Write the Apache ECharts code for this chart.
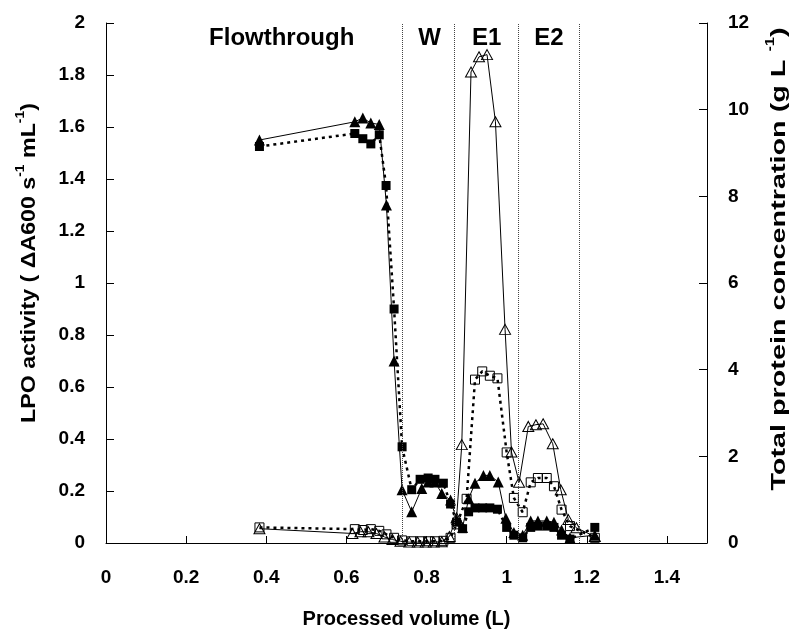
<!DOCTYPE html>
<html>
<head>
<meta charset="utf-8">
<script src="https://cdn.jsdelivr.net/npm/echarts@6/dist/echarts.min.js"></script>
<style>
  html, body { margin: 0; padding: 0; background: #fff; }
  #chart { width: 795px; height: 634px; }
</style>
</head>
<body>
<div id="chart"></div>
<script>
// LPO activity (ΔA600 s-1 mL-1), filled triangles
const lpoTriVolume = [0.383, 0.621, 0.641, 0.661, 0.682, 0.700, 0.719, 0.739, 0.763, 0.788, 0.804, 0.821, 0.838, 0.860, 0.875, 0.890, 0.905, 0.921, 0.942, 0.958, 0.979, 0.998, 1.018, 1.040, 1.060, 1.078, 1.100, 1.118, 1.137, 1.158, 1.220];
const lpoTriActivity = [1.55, 1.62, 1.635, 1.615, 1.61, 1.30, 0.70, 0.205, 0.12, 0.21, 0.235, 0.235, 0.19, 0.165, 0.09, 0.06, 0.17, 0.23, 0.26, 0.26, 0.235, 0.095, 0.04, 0.03, 0.085, 0.085, 0.085, 0.08, 0.05, 0.02, 0.03];

// LPO activity, filled squares
const lpoSqVolume = [0.383, 0.621, 0.641, 0.661, 0.682, 0.699, 0.719, 0.739, 0.763, 0.784, 0.804, 0.821, 0.842, 0.860, 0.875, 0.890, 0.905, 0.921, 0.940, 0.958, 0.977, 1.000, 1.018, 1.040, 1.060, 1.078, 1.100, 1.118, 1.137, 1.158, 1.220];
const lpoSqActivity = [1.525, 1.575, 1.555, 1.535, 1.57, 1.375, 0.90, 0.37, 0.205, 0.245, 0.25, 0.245, 0.23, 0.15, 0.08, 0.055, 0.12, 0.135, 0.135, 0.135, 0.13, 0.06, 0.03, 0.02, 0.06, 0.065, 0.065, 0.06, 0.03, 0.015, 0.06];

// Total protein concentration (g L-1), open triangles
const protTriVolume = [0.383, 0.615, 0.635, 0.655, 0.675, 0.695, 0.715, 0.735, 0.757, 0.778, 0.798, 0.818, 0.838, 0.857, 0.875, 0.888, 0.911, 0.931, 0.951, 0.972, 0.996, 1.012, 1.031, 1.054, 1.073, 1.091, 1.115, 1.135, 1.154, 1.174, 1.220];
const protTriConc = [0.33, 0.22, 0.26, 0.26, 0.22, 0.14, 0.08, 0.04, 0.02, 0.02, 0.02, 0.02, 0.03, 0.15, 0.58, 2.27, 10.87, 11.22, 11.27, 9.72, 4.93, 2.10, 1.40, 2.69, 2.73, 2.75, 2.29, 1.23, 0.54, 0.35, 0.15];

// Total protein concentration, open squares
const protSqVolume = [0.383, 0.621, 0.641, 0.661, 0.682, 0.700, 0.719, 0.739, 0.763, 0.784, 0.804, 0.821, 0.842, 0.860, 0.875, 0.900, 0.921, 0.939, 0.958, 0.977, 1.000, 1.018, 1.040, 1.060, 1.078, 1.100, 1.118, 1.137, 1.158, 1.220];
const protSqConc = [0.36, 0.32, 0.30, 0.32, 0.28, 0.20, 0.12, 0.06, 0.04, 0.04, 0.04, 0.04, 0.05, 0.12, 0.43, 1.02, 3.77, 3.96, 3.86, 3.80, 2.09, 1.04, 0.71, 1.40, 1.50, 1.50, 1.31, 0.77, 0.39, 0.12];

// Process phases and the volumes where they change over
const phaseNames = ['Flowthrough', 'W', 'E1', 'E2'];
const phaseBounds = [0.742, 0.873, 1.027, 1.184];

const FONT = "'Liberation Sans', Arial, Helvetica, sans-serif";
const zip = (xs, ys) => xs.map((x, i) => [x, ys[i]]);

// label anchors: Flowthrough sits over the loading points, others centred between boundaries
const phaseLabelX = [0.4385].concat(phaseBounds.slice(0, 3).map((b, i) => (b + phaseBounds[i + 1]) / 2));

const axisLabelStyle = { color: '#000', fontFamily: FONT, fontWeight: 'bold', fontSize: 19 };
const blackLine = { show: true, lineStyle: { color: '#000', width: 1 } };

const titleRich = (size) => ({
  t: { fontFamily: FONT, fontWeight: 'bold', fontSize: size, fill: '#000', lineHeight: size + 4, verticalAlign: 'bottom' },
  s: { fontFamily: FONT, fontWeight: 'bold', fontSize: 12, fill: '#000', lineHeight: size + 4, verticalAlign: 'top' }
});

const chart = echarts.init(document.getElementById('chart'), null, { renderer: 'canvas' });

chart.setOption({
  animation: false,
  backgroundColor: '#fff',
  grid: { left: 106, right: 88, top: 23, bottom: 91 },
  xAxis: {
    type: 'value', min: 0, max: 1.5, interval: 0.2,
    axisLine: blackLine,
    axisTick: { show: true, inside: true, length: 7, lineStyle: { color: '#000' } },
    axisLabel: Object.assign({ margin: 25, formatter: v => (v > 1.45 ? '' : String(+v.toFixed(1))) }, axisLabelStyle),
    splitLine: { show: false },
    name: 'Processed volume (L)', nameLocation: 'middle', nameGap: 66,
    nameTextStyle: { color: '#000', fontFamily: FONT, fontWeight: 'bold', fontSize: 20 }
  },
  yAxis: [{
    type: 'value', min: 0, max: 2, interval: 0.2,
    axisLine: blackLine,
    axisTick: { show: true, inside: true, length: 8, lineStyle: { color: '#000' } },
    axisLabel: Object.assign({ margin: 21, formatter: v => String(+v.toFixed(1)) }, axisLabelStyle),
    splitLine: { show: false }
  }, {
    type: 'value', min: 0, max: 12, interval: 2, position: 'right',
    axisLine: blackLine,
    axisTick: { show: true, inside: true, length: 8, lineStyle: { color: '#000' } },
    axisLabel: Object.assign({ margin: 21 }, axisLabelStyle),
    splitLine: { show: false }
  }],
  graphic: [{
    // left axis title, stretched along its length like the printed figure
    type: 'text', rotation: Math.PI / 2, x: 27, y: 263, scaleX: 1.16,
    style: {
      text: '{t|LPO activity ( ΔA600 s}{s|-1}{t| mL}{s|-1}{t|)}',
      align: 'center', verticalAlign: 'middle',
      rich: titleRich(20)
    }
  }, {
    type: 'text', rotation: Math.PI / 2, x: 777, y: 259, scaleX: 1.37,
    style: {
      text: '{t|Total protein concentration (g L }{s|-1}{t|)}',
      align: 'center', verticalAlign: 'middle',
      rich: titleRich(21)
    }
  }],
  series: [
    {
      name: 'Phases', type: 'scatter', yAxisIndex: 0, symbolSize: 0, silent: true,
      itemStyle: { opacity: 1, color: '#000' },
      data: phaseNames.map((n, i) => ({ name: n, value: [phaseLabelX[i], 1.94] })),
      label: { show: true, position: 'inside', formatter: '{b}', color: '#000', opacity: 1, fontFamily: FONT, fontWeight: 'bold', fontSize: 24 },
      markLine: {
        symbol: 'none', silent: true, label: { show: false },
        lineStyle: { type: 'dotted', color: '#444', width: 1 },
        data: phaseBounds.map(v => ({ xAxis: v }))
      }
    },
    {
      name: 'Protein (open triangles)', type: 'line', yAxisIndex: 1,
      data: zip(protTriVolume, protTriConc),
      symbol: 'triangle', symbolSize: [11, 10],
      lineStyle: { color: '#000', width: 1 },
      itemStyle: { color: 'rgba(255,255,255,0)', borderColor: '#000', borderWidth: 1 }
    },
    {
      name: 'Protein (open squares)', type: 'line', yAxisIndex: 1,
      data: zip(protSqVolume, protSqConc),
      symbol: 'rect', symbolSize: 9,
      lineStyle: { color: '#000', width: 2.5, type: [3, 4] },
      itemStyle: { color: 'rgba(255,255,255,0)', borderColor: '#000', borderWidth: 1 }
    },
    {
      name: 'LPO (filled triangles)', type: 'line', yAxisIndex: 0,
      data: zip(lpoTriVolume, lpoTriActivity),
      symbol: 'triangle', symbolSize: [11, 11],
      lineStyle: { color: '#000', width: 1 },
      itemStyle: { color: '#000' }
    },
    {
      name: 'LPO (filled squares)', type: 'line', yAxisIndex: 0,
      data: zip(lpoSqVolume, lpoSqActivity),
      symbol: 'rect', symbolSize: 9,
      lineStyle: { color: '#000', width: 2.5, type: [3, 4] },
      itemStyle: { color: '#000' }
    }
  ]
});
</script>
</body>
</html>
